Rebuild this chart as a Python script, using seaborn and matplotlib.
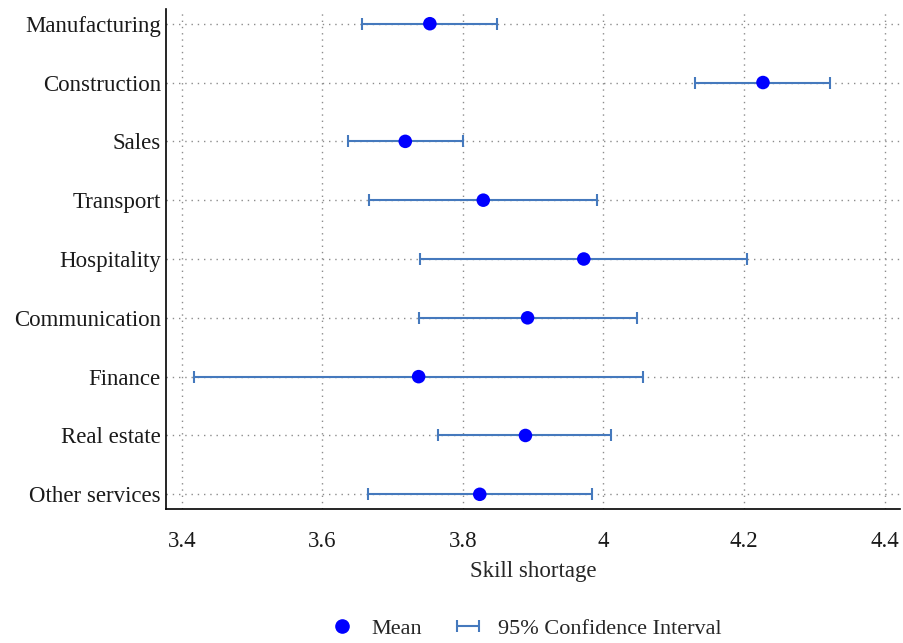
import pandas as pd
import numpy as np
import seaborn as sns
import matplotlib.pyplot as plt
from matplotlib.lines import Line2D

# values
sectors = ['Manufacturing', 'Construction', 'Sales', 'Transport', 'Hospitality',
           'Communication', 'Finance', 'Real estate', 'Other services']
means = [3.753, 4.227, 3.718, 3.829, 3.972, 3.892, 3.737, 3.889, 3.824]
ci_low = [3.657, 4.130, 3.637, 3.667, 3.739, 3.737, 3.418, 3.765, 3.665]
ci_high = [3.849, 4.323, 3.800, 3.991, 4.204, 4.048, 4.056, 4.011, 3.984]
xticks = [3.4, 3.6, 3.8, 4.0, 4.2, 4.4]
xtick_labels = ['3.4', '3.6', '3.8', '4', '4.2', '4.4']

df = pd.DataFrame({'sector': sectors, 'mean': means, 'low': ci_low, 'high': ci_high})

sns.set_style('white')
plt.rcParams['font.family'] = ['Liberation Serif', 'DejaVu Serif']

fig = plt.figure(figsize=(9.04, 6.43), dpi=100)
ax = fig.add_axes([0.184, 0.2084, 0.8116, 0.7776])

err_color = '#4579bd'
pos = np.arange(len(sectors))
eb = ax.errorbar(df['mean'], pos,
                 xerr=[df['mean'] - df['low'], df['high'] - df['mean']],
                 fmt='none', ecolor=err_color, elinewidth=1.5, capsize=4.5,
                 capthick=1.5, zorder=2)
sns.scatterplot(x=df['mean'], y=pos, color='#0000ff', s=95, edgecolor='none',
                ax=ax, zorder=3, legend=False)

ax.set_yticks(pos)
ax.set_yticklabels(sectors)
ax.set_ylim(len(sectors) - 1 + 0.25, -0.25)
ax.set_xlim(3.378, 4.422)
ax.set_xticks(xticks)
ax.set_xticklabels(xtick_labels)

ax.grid(True, linestyle=(0, (1, 3.5)), color='#8c8c8c', linewidth=1.0)
ax.set_axisbelow(True)
for side in ['top', 'right']:
    ax.spines[side].set_visible(False)
for side in ['left', 'bottom']:
    ax.spines[side].set_color('black')
    ax.spines[side].set_linewidth(1.2)
ax.tick_params(axis='both', length=0, labelsize=16.5, colors='#1a1a1a')
ax.tick_params(axis='x', pad=16)
ax.tick_params(axis='y', pad=4)

ax.set_xlabel('Skill shortage', fontsize=16.5, labelpad=6)
ax.set_ylabel('')

# legend below the plot, centred
mean_handle = Line2D([], [], marker='o', color='#0000ff', linestyle='none', markersize=9.5)
fig.legend([mean_handle, eb], ['Mean', '95% Confidence Interval'], loc='lower center',
           bbox_to_anchor=(0.58, -0.025), ncol=2, frameon=False, fontsize=16,
           handlelength=1.3, columnspacing=1.4, handletextpad=0.7)

fig.savefig('out.png', dpi=100)
